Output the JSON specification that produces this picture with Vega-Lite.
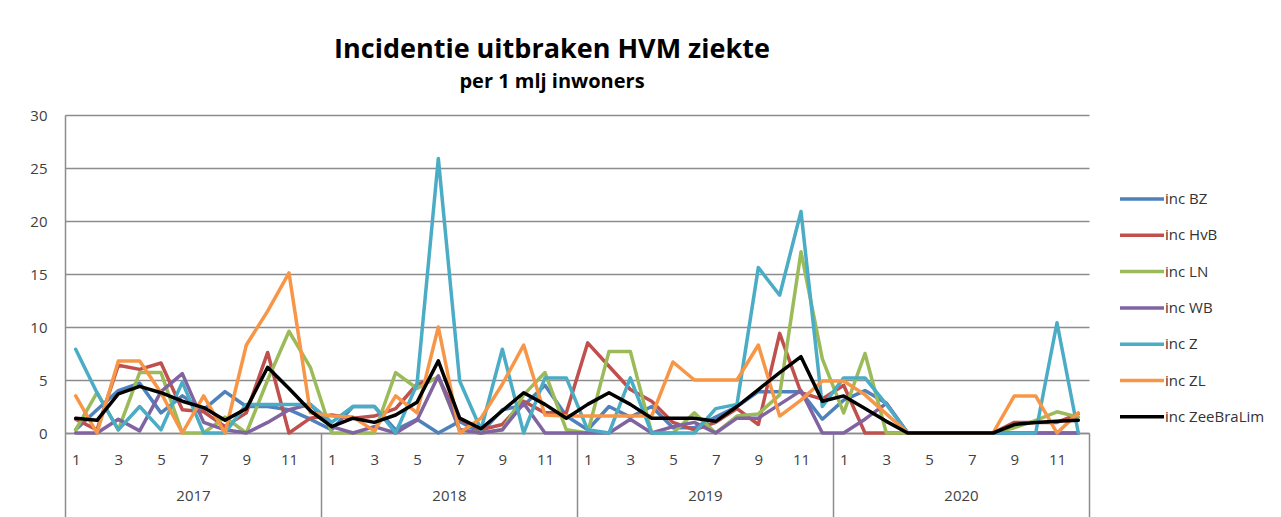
{
  "$schema": "https://vega.github.io/schema/vega-lite/v6.json",
  "autosize": "none",
  "width": 1024,
  "height": 318,
  "padding": {"left": 65, "top": 115, "right": 192, "bottom": 84},
  "background": "white",
  "title": {
    "text": "Incidentie uitbraken HVM ziekte",
    "subtitle": "per 1 mlj inwoners",
    "anchor": "middle",
    "frame": "group",
    "dx": -25,
    "offset": 15,
    "font": "Open Sans",
    "fontSize": 27,
    "fontWeight": "bold",
    "color": "#000000",
    "subtitleFont": "Open Sans",
    "subtitleFontSize": 20,
    "subtitleFontWeight": "bold",
    "subtitleColor": "#000000",
    "subtitlePadding": 8
  },
  "config": {
    "view": {"stroke": null},
    "axis": {"labelFont": "Open Sans", "labelFontSize": 15, "labelColor": "#404040"}
  },
  "layer": [
    {
      "data": {"values": [
        {"k":0,"jaar":2017,"maand":1,"inc BZ":0.3,"inc HvB":1.3,"inc LN":0.3,"inc WB":0,"inc Z":7.9,"inc ZL":3.5,"inc ZeeBraLim":1.4},
        {"k":1,"jaar":2017,"maand":2,"inc BZ":2.2,"inc HvB":0.3,"inc LN":3.8,"inc WB":0,"inc Z":3.8,"inc ZL":0,"inc ZeeBraLim":1.2},
        {"k":2,"jaar":2017,"maand":3,"inc BZ":4.0,"inc HvB":6.4,"inc LN":0.3,"inc WB":1.3,"inc Z":0.3,"inc ZL":6.8,"inc ZeeBraLim":3.7},
        {"k":3,"jaar":2017,"maand":4,"inc BZ":4.7,"inc HvB":6.0,"inc LN":5.7,"inc WB":0.2,"inc Z":2.5,"inc ZL":6.8,"inc ZeeBraLim":4.4},
        {"k":4,"jaar":2017,"maand":5,"inc BZ":1.9,"inc HvB":6.6,"inc LN":5.7,"inc WB":3.9,"inc Z":0.3,"inc ZL":3.8,"inc ZeeBraLim":3.8},
        {"k":5,"jaar":2017,"maand":6,"inc BZ":3.5,"inc HvB":2.2,"inc LN":0,"inc WB":5.6,"inc Z":4.8,"inc ZL":0,"inc ZeeBraLim":3.0},
        {"k":6,"jaar":2017,"maand":7,"inc BZ":2.2,"inc HvB":2.0,"inc LN":0,"inc WB":1.0,"inc Z":0,"inc ZL":3.5,"inc ZeeBraLim":2.4},
        {"k":7,"jaar":2017,"maand":8,"inc BZ":3.9,"inc HvB":0.6,"inc LN":1.5,"inc WB":0.3,"inc Z":0,"inc ZL":0,"inc ZeeBraLim":1.2},
        {"k":8,"jaar":2017,"maand":9,"inc BZ":2.5,"inc HvB":1.9,"inc LN":0,"inc WB":0,"inc Z":2.7,"inc ZL":8.3,"inc ZeeBraLim":2.3},
        {"k":9,"jaar":2017,"maand":10,"inc BZ":2.5,"inc HvB":7.6,"inc LN":5.0,"inc WB":1.0,"inc Z":2.7,"inc ZL":11.5,"inc ZeeBraLim":6.2},
        {"k":10,"jaar":2017,"maand":11,"inc BZ":2.2,"inc HvB":0,"inc LN":9.6,"inc WB":2.2,"inc Z":2.7,"inc ZL":15.1,"inc ZeeBraLim":4.2},
        {"k":11,"jaar":2017,"maand":12,"inc BZ":1.3,"inc HvB":1.4,"inc LN":6.2,"inc WB":2.7,"inc Z":2.7,"inc ZL":1.9,"inc ZeeBraLim":2.1},
        {"k":12,"jaar":2018,"maand":1,"inc BZ":0.3,"inc HvB":1.7,"inc LN":0,"inc WB":0.6,"inc Z":1.0,"inc ZL":1.6,"inc ZeeBraLim":0.6},
        {"k":13,"jaar":2018,"maand":2,"inc BZ":2.5,"inc HvB":1.4,"inc LN":0,"inc WB":0,"inc Z":2.5,"inc ZL":1.5,"inc ZeeBraLim":1.4},
        {"k":14,"jaar":2018,"maand":3,"inc BZ":2.5,"inc HvB":1.6,"inc LN":0,"inc WB":0.6,"inc Z":2.5,"inc ZL":0.2,"inc ZeeBraLim":1.0},
        {"k":15,"jaar":2018,"maand":4,"inc BZ":0.3,"inc HvB":2.3,"inc LN":5.7,"inc WB":0,"inc Z":0,"inc ZL":3.5,"inc ZeeBraLim":1.7},
        {"k":16,"jaar":2018,"maand":5,"inc BZ":1.3,"inc HvB":4.6,"inc LN":4.2,"inc WB":1.2,"inc Z":4.6,"inc ZL":1.9,"inc ZeeBraLim":2.9},
        {"k":17,"jaar":2018,"maand":6,"inc BZ":0,"inc HvB":5.2,"inc LN":5.3,"inc WB":5.4,"inc Z":25.9,"inc ZL":10.0,"inc ZeeBraLim":6.8},
        {"k":18,"jaar":2018,"maand":7,"inc BZ":1.1,"inc HvB":1.3,"inc LN":0.3,"inc WB":0.3,"inc Z":4.9,"inc ZL":0,"inc ZeeBraLim":1.4},
        {"k":19,"jaar":2018,"maand":8,"inc BZ":0,"inc HvB":0.3,"inc LN":0,"inc WB":0,"inc Z":0.3,"inc ZL":1.4,"inc ZeeBraLim":0.4},
        {"k":20,"jaar":2018,"maand":9,"inc BZ":2.2,"inc HvB":0.8,"inc LN":0.3,"inc WB":0.3,"inc Z":7.9,"inc ZL":4.6,"inc ZeeBraLim":2.1},
        {"k":21,"jaar":2018,"maand":10,"inc BZ":2.6,"inc HvB":3.0,"inc LN":3.6,"inc WB":2.8,"inc Z":0,"inc ZL":8.3,"inc ZeeBraLim":3.8},
        {"k":22,"jaar":2018,"maand":11,"inc BZ":4.5,"inc HvB":1.9,"inc LN":5.7,"inc WB":0,"inc Z":5.2,"inc ZL":1.7,"inc ZeeBraLim":2.7},
        {"k":23,"jaar":2018,"maand":12,"inc BZ":1.6,"inc HvB":1.9,"inc LN":0.3,"inc WB":0,"inc Z":5.2,"inc ZL":1.6,"inc ZeeBraLim":1.4},
        {"k":24,"jaar":2019,"maand":1,"inc BZ":0.3,"inc HvB":8.5,"inc LN":0,"inc WB":0,"inc Z":0.3,"inc ZL":1.6,"inc ZeeBraLim":2.7},
        {"k":25,"jaar":2019,"maand":2,"inc BZ":2.5,"inc HvB":6.3,"inc LN":7.7,"inc WB":0,"inc Z":0,"inc ZL":1.6,"inc ZeeBraLim":3.8},
        {"k":26,"jaar":2019,"maand":3,"inc BZ":1.5,"inc HvB":4.1,"inc LN":7.7,"inc WB":1.3,"inc Z":5.2,"inc ZL":1.6,"inc ZeeBraLim":2.7},
        {"k":27,"jaar":2019,"maand":4,"inc BZ":2.5,"inc HvB":3.0,"inc LN":0,"inc WB":0,"inc Z":0,"inc ZL":1.6,"inc ZeeBraLim":1.4},
        {"k":28,"jaar":2019,"maand":5,"inc BZ":0.5,"inc HvB":1.0,"inc LN":0,"inc WB":0.6,"inc Z":0,"inc ZL":6.7,"inc ZeeBraLim":1.4},
        {"k":29,"jaar":2019,"maand":6,"inc BZ":0.5,"inc HvB":0.3,"inc LN":1.9,"inc WB":1.0,"inc Z":0,"inc ZL":5.0,"inc ZeeBraLim":1.4},
        {"k":30,"jaar":2019,"maand":7,"inc BZ":1.5,"inc HvB":1.0,"inc LN":0,"inc WB":0,"inc Z":2.3,"inc ZL":5.0,"inc ZeeBraLim":1.1},
        {"k":31,"jaar":2019,"maand":8,"inc BZ":2.5,"inc HvB":2.3,"inc LN":1.6,"inc WB":1.4,"inc Z":2.7,"inc ZL":5.0,"inc ZeeBraLim":2.5},
        {"k":32,"jaar":2019,"maand":9,"inc BZ":3.9,"inc HvB":0.8,"inc LN":1.8,"inc WB":1.4,"inc Z":15.6,"inc ZL":8.3,"inc ZeeBraLim":4.1},
        {"k":33,"jaar":2019,"maand":10,"inc BZ":3.9,"inc HvB":9.4,"inc LN":3.6,"inc WB":2.7,"inc Z":13.0,"inc ZL":1.6,"inc ZeeBraLim":5.7},
        {"k":34,"jaar":2019,"maand":11,"inc BZ":3.9,"inc HvB":3.8,"inc LN":17.1,"inc WB":4.0,"inc Z":20.9,"inc ZL":3.1,"inc ZeeBraLim":7.2},
        {"k":35,"jaar":2019,"maand":12,"inc BZ":1.3,"inc HvB":3.2,"inc LN":7.0,"inc WB":0,"inc Z":2.5,"inc ZL":4.9,"inc ZeeBraLim":3.0},
        {"k":36,"jaar":2020,"maand":1,"inc BZ":3.1,"inc HvB":4.5,"inc LN":1.9,"inc WB":0,"inc Z":5.2,"inc ZL":4.9,"inc ZeeBraLim":3.5},
        {"k":37,"jaar":2020,"maand":2,"inc BZ":4.0,"inc HvB":0,"inc LN":7.5,"inc WB":1.3,"inc Z":5.2,"inc ZL":3.6,"inc ZeeBraLim":2.3},
        {"k":38,"jaar":2020,"maand":3,"inc BZ":2.8,"inc HvB":0,"inc LN":0,"inc WB":2.8,"inc Z":2.7,"inc ZL":1.8,"inc ZeeBraLim":1.1},
        {"k":39,"jaar":2020,"maand":4,"inc BZ":0,"inc HvB":0,"inc LN":0,"inc WB":0,"inc Z":0,"inc ZL":0,"inc ZeeBraLim":0},
        {"k":40,"jaar":2020,"maand":5,"inc BZ":0,"inc HvB":0,"inc LN":0,"inc WB":0,"inc Z":0,"inc ZL":0,"inc ZeeBraLim":0},
        {"k":41,"jaar":2020,"maand":6,"inc BZ":0,"inc HvB":0,"inc LN":0,"inc WB":0,"inc Z":0,"inc ZL":0,"inc ZeeBraLim":0},
        {"k":42,"jaar":2020,"maand":7,"inc BZ":0,"inc HvB":0,"inc LN":0,"inc WB":0,"inc Z":0,"inc ZL":0,"inc ZeeBraLim":0},
        {"k":43,"jaar":2020,"maand":8,"inc BZ":0,"inc HvB":0,"inc LN":0,"inc WB":0,"inc Z":0,"inc ZL":0,"inc ZeeBraLim":0},
        {"k":44,"jaar":2020,"maand":9,"inc BZ":0,"inc HvB":1.0,"inc LN":0.5,"inc WB":0,"inc Z":0,"inc ZL":3.5,"inc ZeeBraLim":0.8},
        {"k":45,"jaar":2020,"maand":10,"inc BZ":0,"inc HvB":1.0,"inc LN":1.2,"inc WB":0,"inc Z":0,"inc ZL":3.5,"inc ZeeBraLim":1.0},
        {"k":46,"jaar":2020,"maand":11,"inc BZ":0,"inc HvB":1.0,"inc LN":2.0,"inc WB":0,"inc Z":10.4,"inc ZL":0,"inc ZeeBraLim":1.1},
        {"k":47,"jaar":2020,"maand":12,"inc BZ":0,"inc HvB":1.8,"inc LN":1.5,"inc WB":0,"inc Z":0,"inc ZL":1.9,"inc ZeeBraLim":1.2}
      ]},
      "transform": [
        {"fold": ["inc BZ","inc HvB","inc LN","inc WB","inc Z","inc ZL","inc ZeeBraLim"], "as": ["serie","v"]}
      ],
      "mark": {"type": "line", "strokeJoin": "round", "strokeCap": "round"},
      "encoding": {
        "x": {
          "field": "k", "type": "quantitative",
          "scale": {"domain": [-0.5, 47.5], "nice": false, "zero": false},
          "axis": {
            "orient": "bottom", "title": null,
            "values": [0,2,4,6,8,10,12,14,16,18,20,22,24,26,28,30,32,34,36,38,40,42,44,46],
            "labelExpr": "'' + ((datum.value % 12) + 1)",
            "grid": false, "ticks": false, "tickSize": 0,
            "domain": true, "domainColor": "#8c8c8c", "domainWidth": 1.5,
            "labelPadding": 19
          }
        },
        "y": {
          "field": "v", "type": "quantitative",
          "scale": {"domain": [0, 30], "nice": false},
          "axis": {
            "title": null, "values": [0,5,10,15,20,25,30],
            "grid": true, "gridColor": "#8c8c8c", "gridWidth": 1.5,
            "domain": true, "domainColor": "#8c8c8c", "domainWidth": 1.5,
            "ticks": false, "tickSize": 0, "labelPadding": 18
          }
        },
        "color": {
          "field": "serie", "type": "nominal",
          "scale": {
            "domain": ["inc BZ","inc HvB","inc LN","inc WB","inc Z","inc ZL","inc ZeeBraLim"],
            "range": ["#4F81BD","#C0504D","#9BBB59","#8064A2","#4BACC6","#F79646","#000000"]
          },
          "legend": {
            "title": null, "orient": "none", "legendX": 1064, "legendY": 71,
            "padding": 0,
            "symbolType": "M-2,0L2,0", "symbolSize": 484, "symbolStrokeWidth": 3.5,
            "labelOffset": 10, "rowPadding": 15.3,
            "labelFont": "Open Sans", "labelFontSize": 15, "labelColor": "#333333"
          }
        },
        "strokeWidth": {
          "field": "serie", "type": "nominal",
          "scale": {
            "domain": ["inc BZ","inc HvB","inc LN","inc WB","inc Z","inc ZL","inc ZeeBraLim"],
            "range": [3.5,3.5,3.5,3.5,3.5,3.5,4.5]
          },
          "legend": null
        }
      }
    },
    {
      "data": {"values": [{"b": 5.5, "jaar": "2017"}, {"b": 17.5, "jaar": "2018"}, {"b": 29.5, "jaar": "2019"}, {"b": 41.5, "jaar": "2020"}]},
      "mark": {"type": "rule", "opacity": 0},
      "encoding": {
        "x": {
          "field": "b", "type": "quantitative",
          "axis": {
            "orient": "bottom", "title": null,
            "values": [5.5, 17.5, 29.5, 41.5],
            "labelExpr": "'' + (2017 + floor(datum.value / 12))",
            "grid": false, "ticks": false, "tickSize": 0, "domain": false,
            "labelPadding": 55
          }
        }
      }
    },
    {
      "data": {"values": [{"g": -0.5}, {"g": 11.5}, {"g": 23.5}, {"g": 35.5}, {"g": 47.5}]},
      "mark": {"type": "rule", "opacity": 0},
      "encoding": {
        "x": {
          "field": "g", "type": "quantitative",
          "axis": {
            "orient": "bottom", "title": null,
            "values": [-0.5, 11.5, 23.5, 35.5, 47.5],
            "labels": false, "grid": false, "domain": false,
            "ticks": true, "tickSize": 84, "tickColor": "#8c8c8c", "tickWidth": 1.5
          }
        }
      }
    }
  ],
  "resolve": {"axis": {"x": "independent"}}
}
